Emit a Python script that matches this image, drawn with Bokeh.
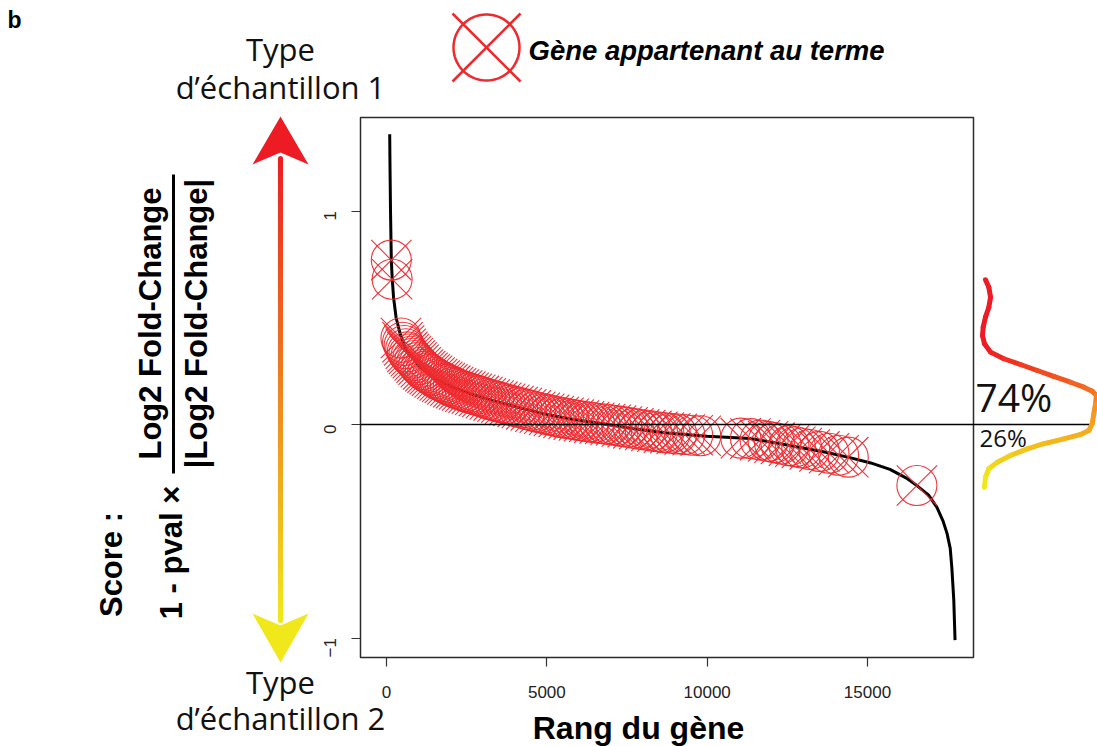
import math
from bokeh.plotting import figure
from bokeh.models import (ColumnDataSource, Label, Arrow, PolyAnnotation, BoxAnnotation,
                          Range1d, FixedTicker, LinearAxis)
from bokeh.core.properties import field
from bokeh.embed import file_html
from bokeh.resources import INLINE

# ---------------- data ----------------
curve_rank = [100, 110, 125, 150, 180, 220, 300, 436, 600, 800, 1060, 1500, 2090, 2700,
              3330, 4100, 4890, 5800, 6700, 7700, 8750, 10000, 11340, 12100, 12900, 13700,
              14450, 15100, 15700, 16200, 16540, 16900, 17165, 17350, 17480, 17580, 17630,
              17690, 17730]
curve_score = [1.36, 1.20, 1.00, 0.77, 0.68, 0.595, 0.50, 0.42, 0.35, 0.315, 0.267, 0.215,
               0.173, 0.14, 0.112, 0.08, 0.05, 0.025, 0.005, -0.02, -0.04, -0.055, -0.066,
               -0.085, -0.108, -0.13, -0.155, -0.18, -0.21, -0.25, -0.286, -0.33, -0.388,
               -0.45, -0.51, -0.58, -0.67, -0.82, -1.01]

term_rank = [150, 175,
             450, 500, 550, 600, 650, 700,
             760, 820, 880, 940, 1000, 1070, 1140, 1210, 1280, 1350,
             1420, 1500, 1580, 1660, 1740, 1820, 1900, 1990, 2080, 2170,
             2260, 2360, 2460, 2560, 2660, 2770, 2880, 2990, 3100, 3220,
             3340, 3460, 3580, 3700, 3830, 3960, 4090, 4220, 4360, 4500,
             4640, 4780, 4920, 5070, 5220, 5370, 5520, 5680, 5840, 6000,
             6160, 6320, 6480, 6650, 6820, 6990, 7160, 7340, 7520, 7700,
             7880, 8070, 8260, 8450, 8650, 8850, 9050, 9300, 9550, 9800,
             11050, 11350, 11650, 11900, 12100, 12300, 12550, 12750, 12950, 13200,
             13500, 13800, 14100, 14400, 16540]
term_score = [0.77, 0.68,
              0.405, 0.385, 0.37, 0.355, 0.34, 0.33,
              0.32, 0.31, 0.30, 0.29, 0.28, 0.268, 0.258, 0.25, 0.242, 0.235,
              0.228, 0.22, 0.213, 0.206, 0.20, 0.194, 0.188, 0.182, 0.175, 0.17,
              0.164, 0.159, 0.154, 0.149, 0.144, 0.139, 0.134, 0.129, 0.123, 0.117,
              0.112, 0.107, 0.102, 0.097, 0.092, 0.087, 0.082, 0.077, 0.071, 0.066,
              0.06, 0.055, 0.05, 0.045, 0.04, 0.035, 0.031, 0.027, 0.023, 0.019,
              0.015, 0.012, 0.008, 0.005, 0.002, -0.001, -0.005, -0.009, -0.013, -0.018,
              -0.022, -0.026, -0.03, -0.034, -0.038, -0.041, -0.044, -0.047, -0.05, -0.053,
              -0.064, -0.066, -0.073, -0.079, -0.085, -0.091, -0.099, -0.104, -0.11, -0.117,
              -0.126, -0.135, -0.144, -0.153, -0.286]

# density of scores drawn at the right of the panel (score, relative density)
density_score = [0.678, 0.643, 0.596, 0.549, 0.503, 0.456, 0.417, 0.378, 0.339, 0.308,
                 0.281, 0.253, 0.225, 0.198, 0.175, 0.156, 0.136, 0.097, 0.050, 0.003,
                 -0.028, -0.047, -0.067, -0.090, -0.114, -0.145, -0.177, -0.207, -0.247,
                 -0.294]
density_value = [0.026, 0.055, 0.070, 0.055, 0.026, 0.006, 0.0, 0.017, 0.070, 0.185,
                 0.330, 0.476, 0.620, 0.765, 0.881, 0.954, 0.991, 0.983, 0.968, 0.954,
                 0.924, 0.852, 0.707, 0.533, 0.389, 0.243, 0.128, 0.055, 0.026, 0.017]
pct_up, pct_down = "74%", "26%"

x_ticks = [0, 5000, 10000, 15000]
y_ticks = [-1, 0, 1]
x_title = "Rang du gène"
legend_text = "Gène appartenant au terme"

# ---------------- page geometry ----------------
W, H = 1097, 746
PX0, PX_PER_RANK = 386.0, (867.0 - 386.0) / 15000.0     # rank 0 -> px 386
PY0, PY_PER_UNIT = 424.0, 213.5                           # score 0 -> py 424
FL, FR, FT, FB = 360, 973, 117, 657                       # inner panel box (px)


def X(px):
    return (px - PX0) / PX_PER_RANK


def Y(py):
    return (PY0 - py) / PY_PER_UNIT


RED = (237, 28, 36)
ORANGE = (246, 146, 30)
YELLOW = (240, 232, 26)


def mix(c1, c2, t):
    t = max(0.0, min(1.0, t))
    return "#%02x%02x%02x" % tuple(int(round(a + (b - a) * t)) for a, b in zip(c1, c2))


p = figure(width=W, height=H, x_range=Range1d(X(0), X(W)), y_range=Range1d(Y(H), Y(0)),
           min_border=0, x_axis_location=None, y_axis_location=None,
           output_backend="svg", toolbar_location=None)
p.title.visible = False
p.xgrid.visible = False
p.ygrid.visible = False
p.outline_line_color = None
p.background_fill_color = "white"
p.border_fill_color = "white"

# panel box
p.add_layout(BoxAnnotation(left=X(FL), right=X(FR), top=Y(FT), bottom=Y(FB),
                           fill_color=None, line_color="#2b2b2b", line_alpha=1,
                           line_width=1.5))

# axes of the panel (R style: ticks outside, attached to the box)
xax = LinearAxis(fixed_location=Y(FB), ticker=FixedTicker(ticks=x_ticks))
yax = LinearAxis(fixed_location=X(FL), ticker=FixedTicker(ticks=y_ticks))
for ax in (xax, yax):
    ax.axis_line_color = None
    ax.major_tick_in = 0
    ax.major_tick_out = 9
    ax.minor_tick_line_color = None
    ax.major_tick_line_color = "#333333"
    ax.major_tick_line_width = 1.2
    ax.major_label_text_font = "Liberation Sans"
    ax.major_label_text_font_size = "17px"
    ax.major_label_text_color = "#222222"
xax.major_label_standoff = 19
yax.major_label_orientation = math.pi / 2
yax.major_label_overrides = {-1: "\u22121"}
yax.major_label_standoff = 22
p.add_layout(xax, "below")
p.add_layout(yax, "left")

# zero line (extends beyond the panel)
p.add_layout(Arrow(x_start=X(FL), y_start=0, x_end=X(1092), y_end=0, end=None,
                   line_color="black", line_width=1.5))

# sorted score curve
p.line(curve_rank, curve_score, line_color="black", line_width=3)

# genes of the term
TERM_RED = "#ed2a2e"
p.scatter(term_rank, term_score, marker="circle", size=40, fill_color=None,
          line_color=TERM_RED, line_width=1.1, line_alpha=0.95)
p.scatter(term_rank, term_score, marker="x", size=57,
          line_color=TERM_RED, line_width=1.1, line_alpha=0.95)

# ---------------- decorations ----------------
# gradient double arrow on the left
ax_px = 280
top_y, bot_y = 158, 620
n = 80
seg = dict(x0=[], y0=[], x1=[], y1=[], c=[])
for i in range(n):
    ya = top_y + (bot_y - top_y) * i / n
    yb = top_y + (bot_y - top_y) * (i + 1) / n
    seg["x0"].append(X(ax_px)); seg["x1"].append(X(ax_px))
    seg["y0"].append(Y(ya)); seg["y1"].append(Y(yb))
    seg["c"].append(mix(RED, YELLOW, (i + 0.5) / n))
p.add_layout(Arrow(x_start="x0", y_start="y0", x_end="x1", y_end="y1", end=None,
                   source=ColumnDataSource(seg), line_color=field("c"),
                   line_width=5, line_cap="round"))
p.add_layout(PolyAnnotation(xs=[X(280), X(308), X(280), X(252)],
                            ys=[Y(116), Y(164), Y(152), Y(164)],
                            fill_color=mix(RED, YELLOW, 0), fill_alpha=1, line_color=None))
p.add_layout(PolyAnnotation(xs=[X(280), X(308), X(280), X(252)],
                            ys=[Y(662), Y(613), Y(625), Y(613)],
                            fill_color=mix(RED, YELLOW, 1), fill_alpha=1, line_color=None))

# density curve on the right
base_px, span_px = 982, 115


def grad_color(s):
    if s > 0.05:
        return mix(ORANGE, RED, (s - 0.08) / 0.26)
    return mix(ORANGE, YELLOW, (0.05 - s) / 0.3)


d = dict(x0=[], y0=[], x1=[], y1=[], c=[])
for i in range(len(density_score) - 1):
    d["x0"].append(X(base_px + span_px * density_value[i]))
    d["x1"].append(X(base_px + span_px * density_value[i + 1]))
    d["y0"].append(density_score[i]); d["y1"].append(density_score[i + 1])
    d["c"].append(grad_color((density_score[i] + density_score[i + 1]) / 2))
p.add_layout(Arrow(x_start="x0", y_start="y0", x_end="x1", y_end="y1", end=None,
                   source=ColumnDataSource(d), line_color=field("c"),
                   line_width=5, line_cap="round", line_join="round"))

# labels are anchored at the bottom of their text box (baseline + descent)
p.add_layout(Label(x=X(975), y=Y(422), text=pct_up, text_font="Open Sans",
                   text_font_size="39px", text_color="#111111"))
p.add_layout(Label(x=X(979), y=Y(453), text=pct_down, text_font="Open Sans",
                   text_font_size="24px", text_color="#111111"))

# legend marker + text
cx, cy, r = 486, 47, 33
circ_x = [X(cx + r * math.cos(2 * math.pi * k / 90)) for k in range(90)]
circ_y = [Y(cy + r * math.sin(2 * math.pi * k / 90)) for k in range(90)]
p.add_layout(PolyAnnotation(xs=circ_x, ys=circ_y, fill_color=None, line_color=TERM_RED,
                            line_alpha=1, line_width=2.5))
lx = dict(x0=[X(cx - 34), X(cx - 34)], y0=[Y(cy - 34), Y(cy + 34)],
          x1=[X(cx + 34), X(cx + 34)], y1=[Y(cy + 34), Y(cy - 34)])
p.add_layout(Arrow(x_start="x0", y_start="y0", x_end="x1", y_end="y1", end=None,
                   source=ColumnDataSource(lx), line_color=TERM_RED, line_width=2.5))
p.add_layout(Label(x=X(528), y=Y(65), text=legend_text, text_font="Liberation Sans",
                   text_font_style="bold italic", text_font_size="27.5px",
                   text_color="black"))

# panel letter
p.add_layout(Label(x=X(7), y=Y(32), text="b", text_font="Liberation Sans",
                   text_font_style="bold", text_font_size="23px", text_color="black"))

# sample-type labels
for txt, py in (("Type", 69), ("d\u2019échantillon 1", 107),
                ("Type", 702), ("d\u2019échantillon 2", 738)):
    p.add_layout(Label(x=X(280), y=Y(py), text=txt, text_font="Open Sans",
                       text_font_size="31px", text_align="center", text_color="#111111"))

# x title
p.add_layout(Label(x=X(638), y=Y(745), text=x_title, text_font="Liberation Sans",
                   text_font_style="bold", text_font_size="32px", text_align="center",
                   text_color="black"))

# rotated score formula
rot = math.pi / 2
common = dict(angle=rot, text_font="Liberation Sans", text_font_style="bold",
              text_font_size="31px", text_align="center", text_baseline="middle",
              text_color="black")
p.add_layout(Label(x=X(111), y=Y(564), text="Score :", **common))
p.add_layout(Label(x=X(171), y=Y(552), text="1 - pval \u00d7", **common))
p.add_layout(Label(x=X(150), y=Y(323), text="Log2 Fold-Change", **common))
p.add_layout(Label(x=X(196), y=Y(323), text="|Log2 Fold-Change|", **common))
p.add_layout(Arrow(x_start=X(173), y_start=Y(174), x_end=X(173), y_end=Y(473), end=None,
                   line_color="black", line_width=3))

open("out.html", "w").write(file_html(p, INLINE))
